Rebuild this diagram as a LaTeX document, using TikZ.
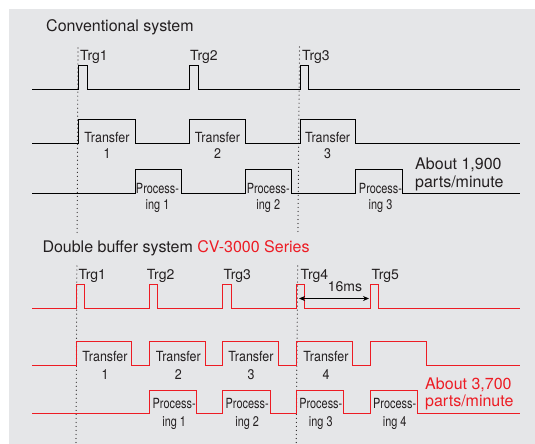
\documentclass[tikz,border=0pt]{standalone}
\usepackage{fontspec}
\setmainfont{TeX Gyre Heros}
\newfontfamily\condT[FakeStretch=0.89]{TeX Gyre Heros}
\newfontfamily\condP[FakeStretch=0.78]{TeX Gyre Heros}
\usetikzlibrary{arrows.meta}
\definecolor{bg}{RGB}{229,230,232}
\definecolor{ink}{RGB}{35,31,32}
\definecolor{kred}{RGB}{237,28,36}
\begin{document}
\begin{tikzpicture}[x=1pt,y=-1pt,
  wave/.style={line width=1pt, draw=black},
  redwave/.style={line width=1pt, draw=kred},
  guide/.style={draw=ink, line width=1.2pt, dash pattern=on 0.01pt off 4pt, line cap=round},
  title/.style={font=\fontsize{16}{18}\selectfont, text=ink, anchor=base west, inner sep=0pt},
  trg/.style={font=\fontsize{14}{16}\selectfont, text=ink, anchor=base west, inner sep=0pt},
  lt/.style={font=\condT\fontsize{14}{16}\selectfont, text=ink, anchor=base, inner sep=0pt},
  lp/.style={font=\condP\fontsize{14}{16}\selectfont, text=ink, anchor=base, inner sep=0pt},
  rate/.style={font=\fontsize{16}{18}\selectfont, anchor=base west, inner sep=0pt},
  dim/.style={line width=1pt, draw=black, {Stealth[length=6pt,width=5pt]}-{Stealth[length=6pt,width=5pt]}}
]
\useasboundingbox (0,0) rectangle (535,444);
\fill[white] (0,0) rectangle (535,444);
\fill[bg] (9,9) rectangle (535,444);

% guide lines
\coordinate (g1a) at (78,48);
\coordinate (g1b) at (77.1,234);
\coordinate (g1c) at (76.9,266);
\coordinate (g1d) at (76,444);
\coordinate (g2a) at (299.5,47);
\coordinate (g2b) at (297.9,234);
\coordinate (g2c) at (297.7,266);
\coordinate (g2d) at (296.2,444);
\draw[guide] (g1a) -- (g1b);
\draw[guide] (g1c) -- (g1d);
\draw[guide] (g2a) -- (g2b);
\draw[guide] (g2c) -- (g2d);

% Conventional system
\node[title] (t1) at (46,31.5) {Conventional system};
\node[trg] (c1) at (80,60) {Trg1};
\node[trg] (c2) at (190,60) {Trg2};
\node[trg] (c3) at (302,60) {Trg3};

\draw[wave] (32,89.5) -- (78.5,89.5) |- (87.5,65.5) |- (189.5,89.5) |- (198.5,65.5) |- (300.5,89.5) |- (308.5,65.5) |- (519.5,89.5);
\draw[wave] (32,143.5) -- (78.5,143.5) |- (135.5,119.5) |- (189.5,143.5) |- (245.5,119.5) |- (300.5,143.5) |- (355.5,119.5) |- (519.5,143.5);
\draw[wave] (32,193.5) -- (135.5,193.5) |- (181.5,169.5) |- (245.5,193.5) |- (291.5,169.5) |- (355.5,193.5) |- (402.5,169.5) |- (519.5,193.5);

\node[lt] (ct1) at (107,142) {Transfer};
\node[lt] (ct1n) at (107,158.3) {1};
\node[lt] (ct2) at (217.5,142) {Transfer};
\node[lt] (ct2n) at (217.5,158.3) {2};
\node[lt] (ct3) at (327.6,142) {Transfer};
\node[lt] (ct3n) at (327.6,158.3) {3};

\node[lp] (cp1) at (157.5,193) {Process-};
\node[lp] (cp1n) at (157.5,209) {ing 1};
\node[lp] (cp2) at (268.3,193) {Process-};
\node[lp] (cp2n) at (268.3,209) {ing 2};
\node[lp] (cp3) at (380.5,193) {Process-};
\node[lp] (cp3n) at (380.5,209) {ing 3};

\node[rate, text=ink] (r1a) at (415,169) {About 1,900};
\node[rate, text=ink] (r1b) at (415,187) {parts/minute};

% Double buffer system
\node[title] (t2) at (42.3,252.3) {Double buffer system \textcolor{kred}{CV-3000 Series}};
\node[trg] (d1) at (78.3,279.3) {Trg1};
\node[trg] (d2) at (146.7,279.3) {Trg2};
\node[trg] (d3) at (223.3,279.3) {Trg3};
\node[trg] (d4) at (300.5,279.3) {Trg4};
\node[trg] (d5) at (371.3,279.3) {Trg5};

\draw[redwave] (32,308.5) -- (76.5,308.5) |- (84.5,284.5) |- (149.5,308.5) |- (157.5,284.5) |- (222.5,308.5) |- (231.5,284.5) |- (296.5,308.5) |- (304.5,284.5) |- (370.5,308.5) |- (378.5,284.5) |- (519.5,308.5);
\draw[redwave] (32,365.5) -- (76.5,365.5) |- (131.5,341.5) |- (149.5,365.5) |- (205.5,341.5) |- (222.5,365.5) |- (278.5,341.5) |- (296.5,365.5) |- (352.5,341.5) |- (370.5,365.5) |- (426.5,341.5) |- (519.5,365.5);
\draw[redwave] (32,413.5) -- (149.5,413.5) |- (196.5,390.5) |- (222.5,413.5) |- (270.5,390.5) |- (296.5,413.5) |- (343.5,390.5) |- (370.5,413.5) |- (417.5,390.5) |- (519.5,413.5);

\coordinate (a1) at (299,298.5);
\coordinate (a2) at (369,298.5);
\draw[dim] (a1) -- (a2);
\node[trg, anchor=base] (ms) at (345,291.7) {16ms};

\node[lt] (dt1) at (105,361.7) {Transfer};
\node[lt] (dt1n) at (105,379) {1};
\node[lt] (dt2) at (178.3,361.7) {Transfer};
\node[lt] (dt2n) at (178.3,379) {2};
\node[lt] (dt3) at (251,361.7) {Transfer};
\node[lt] (dt3n) at (251,379) {3};
\node[lt] (dt4) at (326,361.7) {Transfer};
\node[lt] (dt4n) at (326,379) {4};

\node[lp] (dp1) at (174.2,408.3) {Process-};
\node[lp] (dp1n) at (174.2,426) {ing 1};
\node[lp] (dp2) at (247.2,408.3) {Process-};
\node[lp] (dp2n) at (247.2,426) {ing 2};
\node[lp] (dp3) at (320.8,408.3) {Process-};
\node[lp] (dp3n) at (320.8,426) {ing 3};
\node[lp] (dp4) at (394.7,408.3) {Process-};
\node[lp] (dp4n) at (394.7,426) {ing 4};

\node[rate, text=kred] (r2a) at (425,389.3) {About 3,700};
\node[rate, text=kred] (r2b) at (425,406) {parts/minute};
\end{tikzpicture}
\end{document}
